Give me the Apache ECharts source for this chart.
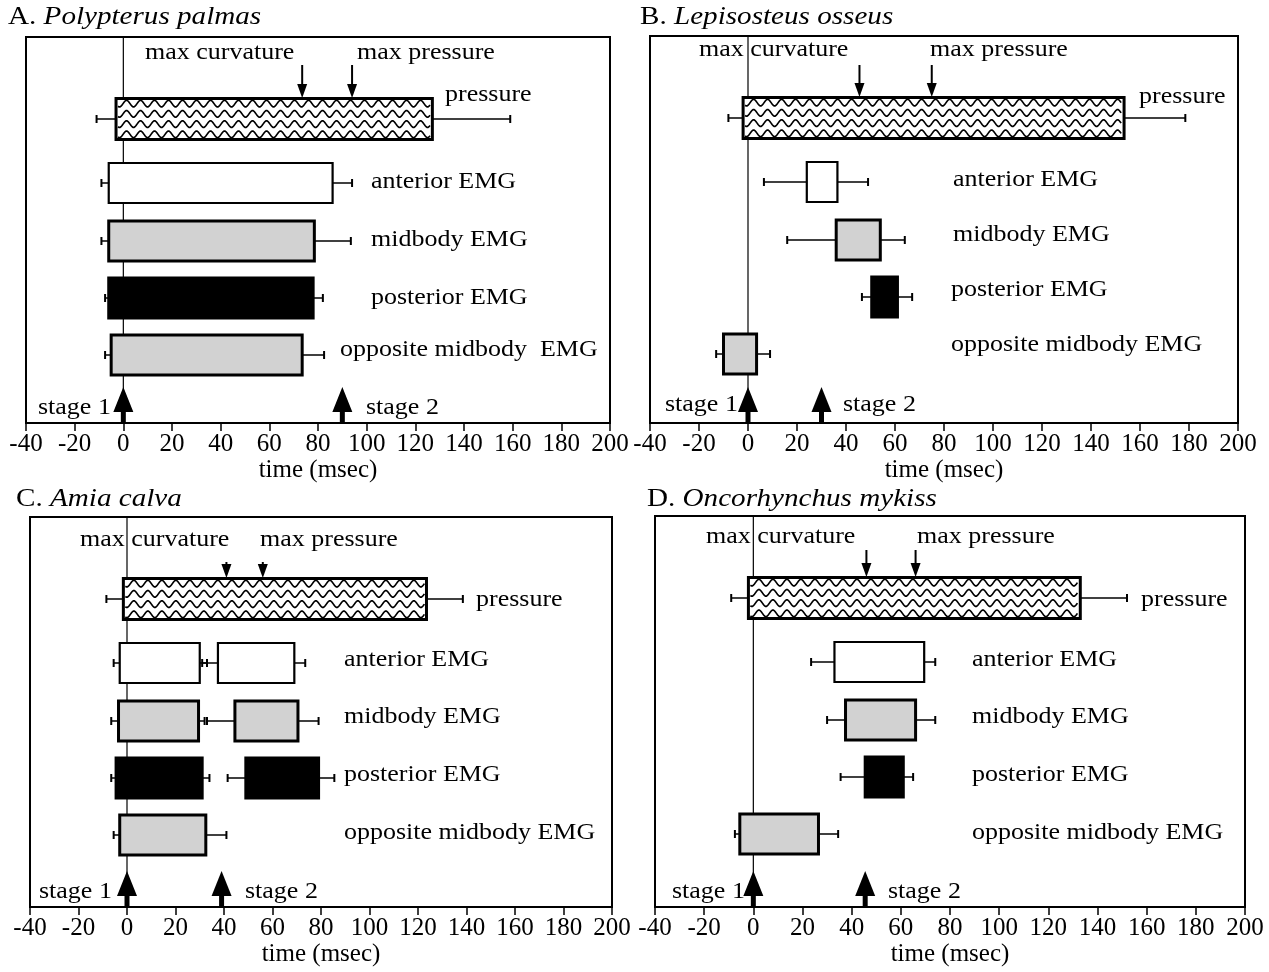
<!DOCTYPE html>
<html>
<head>
<meta charset="utf-8">
<script src="https://cdn.jsdelivr.net/npm/echarts@6/dist/echarts.min.js"></script>
<style>
  html, body { margin: 0; padding: 0; background: #fff; }
  #graph { width: 1269px; height: 972px; }
</style>
</head>
<body>
<div id="graph"></div>
<script>
var rows = ['pressure', 'anterior EMG', 'midbody EMG', 'posterior EMG', 'opposite midbody EMG'];

// [row, onset, offset, onset - error, offset + error]  (msec)
var polypterus = [
    ['pressure', -3, 127, -11, 159],
    ['anterior EMG', -6, 86, -9, 94],
    ['midbody EMG', -6, 78.5, -9, 93.5],
    ['posterior EMG', -6, 78, -7.5, 82],
    ['opposite midbody EMG', -5, 73.5, -7.5, 82.5]
];
var lepisosteus = [
    ['pressure', -2, 153.5, -8, 178.5],
    ['anterior EMG', 24, 36.5, 6.5, 49],
    ['midbody EMG', 36, 54, 16, 64],
    ['posterior EMG', 50.5, 61, 46.5, 67],
    ['opposite midbody EMG', -10, 3.5, -13, 9]
];
var amia = [
    ['pressure', -1.5, 123.5, -8.5, 138.5],
    ['anterior EMG', -3, 30, -5.5, 33],
    ['anterior EMG', 37.5, 69, 31, 73.5],
    ['midbody EMG', -3.5, 29.5, -6.5, 32],
    ['midbody EMG', 44.5, 70.5, 33, 79],
    ['posterior EMG', -4.5, 31, -6.5, 34],
    ['posterior EMG', 49, 79, 41.5, 85.5],
    ['opposite midbody EMG', -3, 32.5, -5.5, 41]
];
var oncorhynchus = [
    ['pressure', -2, 133, -9, 152],
    ['anterior EMG', 33, 69.5, 23.5, 74],
    ['midbody EMG', 37.5, 66, 30, 74],
    ['posterior EMG', 45.5, 61, 35.5, 65],
    ['opposite midbody EMG', -5.5, 26.5, -7.5, 34.5]
];
var maxCurvature = [73.5, 45.5, 41, 46];
var maxPressure = [94, 75, 56, 66];
var stage1 = [0, 0, 0, 0];
var stage2 = [90, 30, 39, 45.5];

var panels = [polypterus, lepisosteus, amia, oncorhynchus];

// layout
var grids = [
    {left: 26, top: 37, width: 584, height: 386},
    {left: 650, top: 36, width: 588, height: 387},
    {left: 30, top: 517, width: 582, height: 390},
    {left: 655, top: 516, width: 590, height: 391}
];
var rowY = [82, 146, 204, 261, 318];
var arrowTop = [28, 29, 45, 34];
var fills = ['#fff', '#fff', '#d2d2d2', '#000', '#d2d2d2'];
var FONT = '"Liberation Serif", "Times New Roman", serif';

var dom = document.getElementById('graph');
var chart = echarts.init(dom);

function renderBar(params, api) {
    var row = api.value(0);
    var y = rowY[row];
    var s = api.coord([api.value(1), y]);
    var e = api.coord([api.value(2), y]);
    var lo = api.coord([api.value(3), y]);
    var hi = api.coord([api.value(4), y]);
    var cy = s[1];
    var h = row === 0 ? 41 : 40;
    var line = {stroke: '#000', lineWidth: 1.5};
    var kids = [
        {type: 'line', shape: {x1: lo[0], y1: cy, x2: s[0], y2: cy}, style: line},
        {type: 'line', shape: {x1: lo[0], y1: cy - 4, x2: lo[0], y2: cy + 4}, style: {stroke: '#000', lineWidth: 2}},
        {type: 'line', shape: {x1: e[0], y1: cy, x2: hi[0], y2: cy}, style: line},
        {type: 'line', shape: {x1: hi[0], y1: cy - 4, x2: hi[0], y2: cy + 4}, style: {stroke: '#000', lineWidth: 2}},
        {type: 'rect', shape: {x: s[0], y: cy - h / 2, width: e[0] - s[0], height: h},
            style: {fill: fills[row], stroke: '#000', lineWidth: row === 1 ? 2.2 : 3}}
    ];
    if (row === 0) {
        // wavy hatching of the pressure bar
        for (var i = 0; i < 4; i++) {
            var rc = cy - h / 2 + h * (i + 0.5) / 4;
            var pts = [];
            for (var x = s[0] + 2; x <= e[0] - 2; x += 1) {
                pts.push([x, rc + 3.3 * Math.sin(2 * Math.PI * (x - s[0]) / 14)]);
            }
            kids.push({type: 'polyline', shape: {points: pts}, style: {stroke: '#000', fill: null, lineWidth: 1.7}});
        }
    }
    return {type: 'group', children: kids};
}

function renderMarks(p) {
    return function (params, api) {
        var g = grids[p];
        var z0 = api.coord([0, 0]);
        var kids = [
            {type: 'line', shape: {x1: z0[0], y1: g.top, x2: z0[0], y2: g.top + g.height}, style: {stroke: '#000', lineWidth: 1.2}}
        ];
        [maxCurvature[p], maxPressure[p]].forEach(function (v) {
            var a = api.coord([v, arrowTop[p]]);
            var tip = api.coord([v, rowY[0] - 21])[1];
            kids.push({type: 'line', shape: {x1: a[0], y1: a[1], x2: a[0], y2: tip - 10}, style: {stroke: '#000', lineWidth: 2}});
            kids.push({type: 'polygon', shape: {points: [[a[0] - 5, tip - 14], [a[0] + 5, tip - 14], [a[0], tip]]}, style: {fill: '#000'}});
        });
        [stage1[p], stage2[p]].forEach(function (v) {
            var b = api.coord([v, g.height]);
            kids.push({type: 'rect', shape: {x: b[0] - 2.5, y: b[1] - 12, width: 5, height: 12}, style: {fill: '#000'}});
            kids.push({type: 'polygon', shape: {points: [[b[0] - 10, b[1] - 11], [b[0] + 10, b[1] - 11], [b[0], b[1] - 36]]}, style: {fill: '#000'}});
        });
        return {type: 'group', children: kids};
    };
}

var option = {
    animation: false,
    grid: grids.map(function (g) {
        return {left: g.left, top: g.top, width: g.width, height: g.height, show: true,
            borderColor: '#000', borderWidth: 2, backgroundColor: 'transparent'};
    }),
    xAxis: grids.map(function (g, i) {
        return {
            type: 'value', gridIndex: i, position: 'bottom', min: -40, max: 200, interval: 20,
            name: 'time (msec)', nameLocation: 'middle', nameGap: 31,
            nameTextStyle: {fontFamily: FONT, fontSize: 25, color: '#000'},
            axisLine: {show: true, onZero: false, lineStyle: {color: '#000', width: 2}},
            axisTick: {show: true, inside: false, length: 8, lineStyle: {color: '#000', width: 1.5}},
            axisLabel: {fontFamily: FONT, fontSize: 25, color: '#000', margin: 9},
            splitLine: {show: false}
        };
    }),
    yAxis: grids.map(function (g, i) {
        return {type: 'value', gridIndex: i, min: 0, max: g.height, inverse: true, show: false};
    }),
    series: []
};

panels.forEach(function (data, p) {
    option.series.push({
        type: 'custom', xAxisIndex: p, yAxisIndex: p, z: 1, clip: false,
        renderItem: renderMarks(p), data: [[0, 0]]
    });
    option.series.push({
        type: 'custom', xAxisIndex: p, yAxisIndex: p, z: 2, clip: false,
        renderItem: renderBar,
        data: data.map(function (d) {
            return [rows.indexOf(d[0]), d[1], d[2], d[3], d[4]];
        })
    });
});

function txt(x, y, s) {
    return {type: 'text', x: x, y: y, scaleX: 1.13, silent: true,
        style: {text: s, fill: '#000', font: '23px ' + FONT, verticalAlign: 'middle'}};
}
function title(x, y, letter, name) {
    return {type: 'text', x: x, y: y, scaleX: 1.12, silent: true,
        style: {text: '{n|' + letter + ' }{i|' + name + '}', verticalAlign: 'middle',
            rich: {n: {fontFamily: FONT, fontSize: 26, fill: '#000'},
                   i: {fontFamily: FONT, fontSize: 26, fontStyle: 'italic', fill: '#000'}}}};
}

option.graphic = {elements: [
    title(8, 17, 'A.', 'Polypterus palmas'),
    txt(145, 53, 'max curvature'), txt(357, 53, 'max pressure'),
    txt(445, 95, 'pressure'), txt(371, 182, 'anterior EMG'), txt(371, 240, 'midbody EMG'),
    txt(371, 298, 'posterior EMG'), txt(340, 350, 'opposite midbody  EMG'),
    txt(38, 408, 'stage 1'), txt(366, 408, 'stage 2'),

    title(640, 17, 'B.', 'Lepisosteus osseus'),
    txt(699, 50, 'max curvature'), txt(930, 50, 'max pressure'),
    txt(1139, 97, 'pressure'), txt(953, 180, 'anterior EMG'), txt(953, 235, 'midbody EMG'),
    txt(951, 290, 'posterior EMG'), txt(951, 345, 'opposite midbody EMG'),
    txt(665, 405, 'stage 1'), txt(843, 405, 'stage 2'),

    title(16, 499, 'C.', 'Amia calva'),
    txt(80, 540, 'max curvature'), txt(260, 540, 'max pressure'),
    txt(476, 600, 'pressure'), txt(344, 660, 'anterior EMG'), txt(344, 717, 'midbody EMG'),
    txt(344, 775, 'posterior EMG'), txt(344, 833, 'opposite midbody EMG'),
    txt(39, 892, 'stage 1'), txt(245, 892, 'stage 2'),

    title(647, 499, 'D.', 'Oncorhynchus mykiss'),
    txt(706, 537, 'max curvature'), txt(917, 537, 'max pressure'),
    txt(1141, 600, 'pressure'), txt(972, 660, 'anterior EMG'), txt(972, 717, 'midbody EMG'),
    txt(972, 775, 'posterior EMG'), txt(972, 833, 'opposite midbody EMG'),
    txt(672, 892, 'stage 1'), txt(888, 892, 'stage 2')
]};

chart.setOption(option);
</script>
</body>
</html>
